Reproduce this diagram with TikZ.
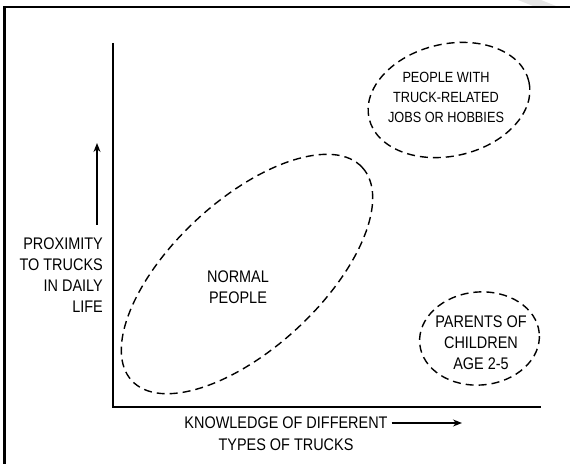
\documentclass[tikz,border=0pt]{standalone}
\usepackage{fontspec}
\setmainfont{Liberation Sans}[FakeStretch=0.86]
\usepackage{tkz-euclide}
\usetikzlibrary{arrows.meta}

\tikzset{
  blob/.style={dash pattern=on 8pt off 5pt,line width=1.4pt},
  axis/.style={line width=1.5pt,line join=miter},
  lab/.style={font=\fontsize{16.8}{21}\selectfont,align=center,inner sep=4pt},
  tip/.style={-{Stealth[length=9pt,width=7pt]},line width=1.3pt}
}

\begin{document}
\begin{tikzpicture}[x=1pt,y=1pt]
                \useasboundingbox (0,0) rectangle (570,463);
                \fill[gray!20] (518,463) -- (541,463) -- (556,457) -- (533,457) -- cycle;

                \tkzDefPoint(4.5,-5){F0}
                \tkzDefPoint(4.5,455.7){F1}
                \tkzDefPoint(575,455.7){F2}
                \draw[line width=2.4pt] (F0) -- (F1) -- (F2);

                \tkzDefPoint(113,56){O}
                \tkzDefPoint(541,56){X}
                \tkzDefPoint(113,420){Y}
                \draw[axis] (Y) -- (O) -- (X);

                % labels of the axes
                \node[lab,align=right,anchor=east] (ylab) at (107,188) {PROXIMITY\\TO TRUCKS\\IN DAILY\\LIFE};
                \node[lab] (xtop) at (286,40) {KNOWLEDGE OF DIFFERENT};
                \node[lab] (xbot) at (286,18) {TYPES OF TRUCKS};

                \tkzDefPoint(97,238){Ta}
                \tkzDefPoint(97,320){Tb}
                \tkzDefPoint(462,40){Xa}
                \draw[tip] (Ta) -- (Tb);
                \draw[tip] (xtop) -- (Xa);

                % the three groups
                \tkzDefPoint(247,189){N}
                \tkzDefPoint(449,363){H}
                \tkzDefPoint(479.5,124.5){P}
                \draw[blob,rotate around={42.8:(N)}] (N) ellipse[x radius=157,y radius=74];
                \draw[blob,rotate around={13:(H)}] (H) ellipse[x radius=82,y radius=56];
                \draw[blob,rotate around={5:(P)}] (P) ellipse[x radius=60,y radius=46.5];

                \node[lab] (normal) at (238,176) {NORMAL\\PEOPLE};
                \node[lab,font=\fontsize{14.8}{20}\selectfont] (hobby) at (446,366) {PEOPLE WITH\\TRUCK-RELATED\\JOBS OR HOBBIES};
                \node[lab] (parent) at (481,120) {PARENTS OF\\CHILDREN\\AGE 2-5};
            \end{tikzpicture}
\end{document}
